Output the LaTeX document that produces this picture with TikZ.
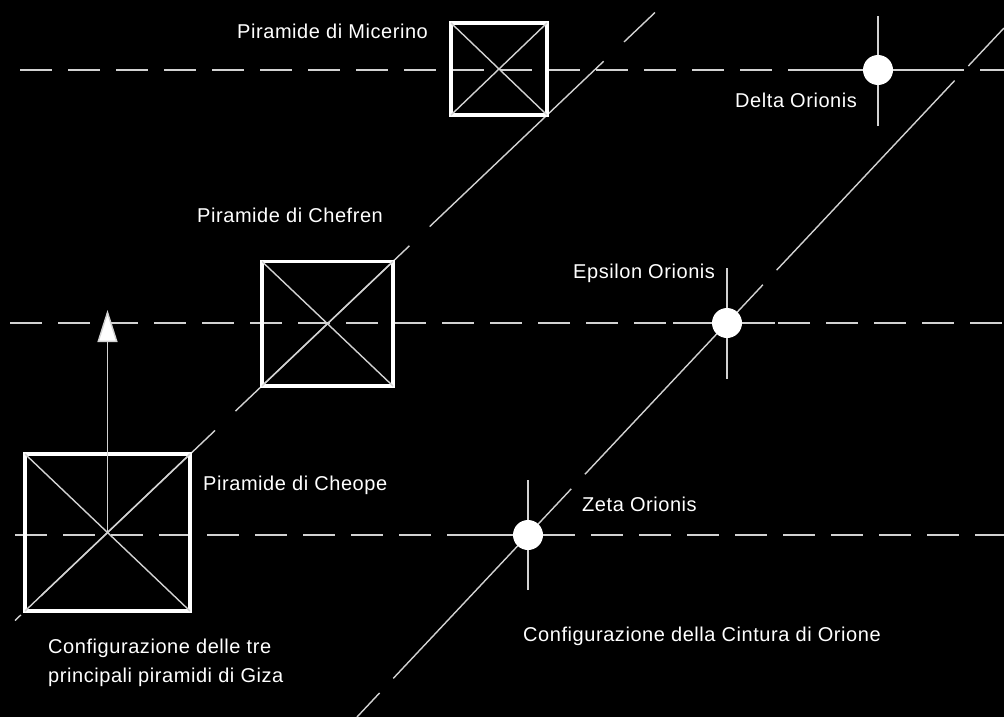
\documentclass[tikz,border=0pt]{standalone}
\usepackage{fontspec}
\setmainfont{Liberation Sans}[LetterSpace=2.8]
\usetikzlibrary{arrows.meta}
\definecolor{linegray}{RGB}{210,210,210}
\begin{document}
\begin{tikzpicture}[x=1pt,y=-1pt,
  guide/.style={draw=linegray, line width=1.4pt},
  hdash/.style={guide, dash pattern=on 32pt off 16pt},
  pyr/.style={draw=white, line width=3.8pt, inner sep=0pt, outer sep=0pt},
  star/.style={circle, fill=white, minimum size=30pt, inner sep=0pt},
  lbl/.style={text=white, font=\fontsize{20}{24}\selectfont, inner sep=0pt, anchor=base west}]
\fill[black] (0,0) rectangle (1004,717);
\useasboundingbox (0,0) rectangle (1004,717);
% horizontal guide lines
\coordinate (h1a) at (20,70);  \coordinate (h1b) at (1004,70);
\coordinate (h2a) at (10,323); \coordinate (h2b) at (1004,323);
\coordinate (h3a) at (15,535); \coordinate (h3b) at (1004,535);
\draw[hdash] (h1a) -- (h1b);
\draw[hdash] (h2a) -- (h2b);
\draw[hdash] (h3a) -- (h3b);
% diagonal guide lines
\coordinate (d1a) at (15,620.5);  \coordinate (d1b) at (655,12.5);
\coordinate (d2a) at (357,717); \coordinate (d2b) at (1004,28);
\draw[guide, dash pattern=on 240pt off 28pt, dash phase=232pt] (d1a) -- (d1b);
\draw[guide, dash pattern=on 260pt off 20pt, dash phase=227pt] (d2a) -- (d2b);
% pyramids
\node[pyr, minimum width=165pt, minimum height=157pt] (cheope) at (107.5,532.5) {};
\node[pyr, minimum width=131pt, minimum height=124.5pt] (chefren) at (327.5,323.75) {};
\node[pyr, minimum width=96pt, minimum height=92pt] (micerino) at (499,69) {};
\foreach \p in {cheope,chefren,micerino}{
  \draw[guide] (\p.north west) -- (\p.south east);
  \draw[guide] (\p.south west) -- (\p.north east);
}
% arrow
\coordinate (arrowtip) at (107.5,310);
\draw[guide, -{Triangle[length=32pt,width=20pt,fill=white]}] (cheope.center) -- (arrowtip);
% stars
\coordinate (deltaC) at (878,70);
\coordinate (epsC) at (727,323);
\coordinate (zetaC) at (528,535);
\draw[guide] ([yshift=-56pt]deltaC) -- ([yshift=54pt]deltaC);
\draw[guide] ([xshift=-58pt]deltaC) -- ([xshift=79pt]deltaC);
\draw[guide] ([yshift=-56pt]epsC) -- ([yshift=55pt]epsC);
\draw[guide] ([xshift=-54pt]epsC) -- ([xshift=48pt]epsC);
\draw[guide] ([yshift=-55pt]zetaC) -- ([yshift=55pt]zetaC);
\draw[guide] ([xshift=-50pt]zetaC) -- ([xshift=46pt]zetaC);
\node[star] (delta) at (deltaC) {};
\node[star] (epsilon) at (epsC) {};
\node[star] (zeta) at (zetaC) {};
% labels
\node[lbl] (lmic) at (237,39) {Piramide di Micerino};
\node[lbl] (ldelta) at (735,107) {Delta Orionis};
\node[lbl] (lchef) at (197,222) {Piramide di Chefren};
\node[lbl] (leps) at (573,278) {Epsilon Orionis};
\node[lbl] (lcheo) at (203,490) {Piramide di Cheope};
\node[lbl] (lzeta) at (582,511) {Zeta Orionis};
\node[lbl] (lgiza1) at (48,653) {Configurazione delle tre};
\node[lbl] (lgiza2) at (48,682) {principali piramidi di Giza};
\node[lbl] (lorion) at (523,641) {Configurazione della Cintura di Orione};
\end{tikzpicture}
\end{document}
